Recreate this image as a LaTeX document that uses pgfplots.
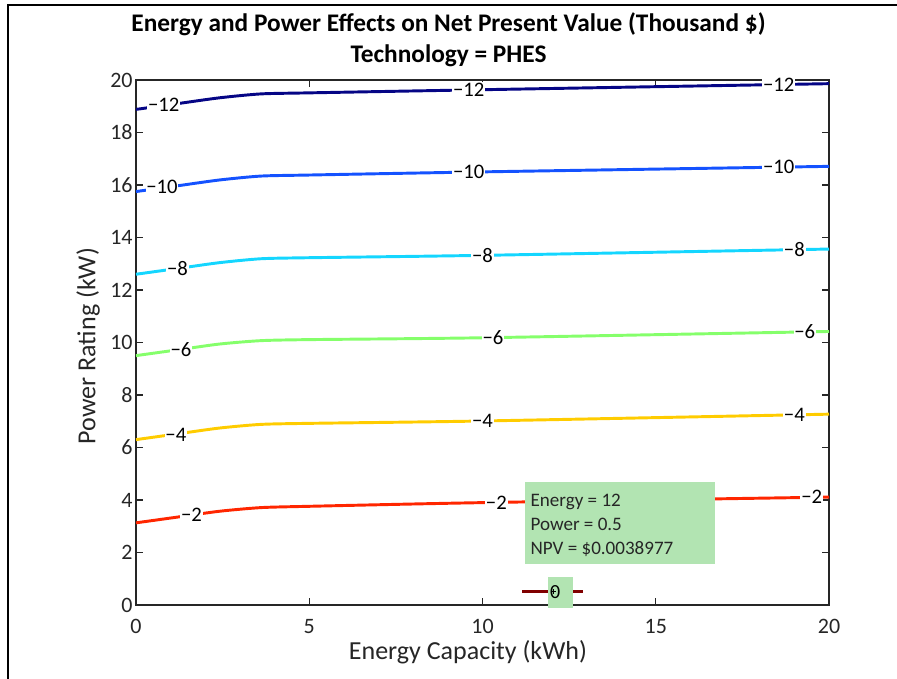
\documentclass[border=0pt]{standalone}
\usepackage{pgfplots}
\pgfplotsset{compat=1.18}
\usepackage{fontspec}
\setmainfont{Carlito}
\definecolor{c12}{rgb}{0.02,0.02,0.52}
\definecolor{c10}{rgb}{0.08,0.32,1.0}
\definecolor{c8}{rgb}{0.08,0.84,1.0}
\definecolor{c6}{rgb}{0.52,1.0,0.42}
\definecolor{c4}{rgb}{1.0,0.80,0.0}
\definecolor{c2}{rgb}{1.0,0.15,0.0}
\definecolor{c0}{rgb}{0.50,0.0,0.0}
\definecolor{tipgreen}{RGB}{178,228,178}
\definecolor{axgray}{RGB}{38,38,38}
\tikzset{clabel/.style={fill=white, inner sep=0.6pt, font=\fontsize{15.5}{18}\selectfont}}
\begin{document}
\begin{tikzpicture}
\path[use as bounding box] (-102pt,-55.5pt) rectangle (570.75pt,453.75pt);
\draw[line width=2.2pt,black] (-96pt,-60pt) -- (-96pt,450pt) -- (580pt,450pt);
\node[font=\fontsize{19}{22}\selectfont\bfseries] at (234.4pt,435.5pt) {Energy and Power Effects on Net Present Value (Thousand \$)};
\node[font=\fontsize{19}{22}\selectfont\bfseries] at (234.4pt,412pt) {Technology = PHES};
\begin{axis}[
  at={(0,0)}, anchor=south west,
  scale only axis, width=519.75pt, height=393.75pt,
  xmin=0, xmax=20, ymin=0, ymax=20,
  xtick={0,5,10,15,20}, ytick={0,2,...,20},
  tick align=inside, major tick length=5pt,
  clip=false,
  axis line style={axgray, line width=0.9pt},
  every tick/.style={axgray, line width=0.8pt},
  tick label style={font=\fontsize{16.5}{19}\selectfont, text=axgray},
  xticklabel style={yshift=-7pt},
  yticklabel style={xshift=1pt},
  /pgf/number format/assume math mode=true,
  xlabel={Energy Capacity (kWh)}, ylabel={Power Rating (kW)},
  every axis x label/.style={at={(axis description cs:0.479,-0.0895)}, anchor=center, font=\fontsize{19.5}{22}\selectfont, text=axgray},
  every axis y label/.style={at={(axis description cs:-0.069,0.493)}, anchor=center, rotate=90, font=\fontsize{19.5}{22}\selectfont, text=axgray},
]
\addplot[c12, line width=2.2pt, smooth, tension=0.4] coordinates {(0,18.88) (1.2,19.10) (2.4,19.32) (3.6,19.47) (5,19.51) (10,19.63) (20,19.86)};
\addplot[c10, line width=2.2pt, smooth, tension=0.4] coordinates {(0,15.75) (1.2,15.97) (2.4,16.19) (3.6,16.34) (5,16.38) (10,16.50) (20,16.71)};
\addplot[c8, line width=2.2pt, smooth, tension=0.4] coordinates {(0,12.60) (1.2,12.82) (2.4,13.04) (3.6,13.19) (5,13.23) (10,13.32) (20,13.56)};
\addplot[c6, line width=2.2pt, smooth, tension=0.4] coordinates {(0,9.50) (1.2,9.72) (2.4,9.94) (3.6,10.07) (5,10.11) (10,10.18) (20,10.42)};
\addplot[c4, line width=2.2pt, smooth, tension=0.4] coordinates {(0,6.30) (1.2,6.52) (2.4,6.74) (3.6,6.88) (5,6.92) (10,7.01) (20,7.27)};
\addplot[c2, line width=2.2pt, smooth, tension=0.4] coordinates {(0,3.13) (1.2,3.35) (2.4,3.57) (3.6,3.71) (5,3.76) (10,3.90) (20,4.11)};
\addplot[c0, line width=2.2pt] coordinates {(11.15,0.5) (12.9,0.5)};
% contour labels
\node[clabel] at (axis cs:0.8,19.05) {−12};
\node[clabel] at (axis cs:9.6,19.62) {−12};
\node[clabel] at (axis cs:18.55,19.83) {−12};
\node[clabel] at (axis cs:0.75,15.93) {−10};
\node[clabel] at (axis cs:9.6,16.49) {−10};
\node[clabel] at (axis cs:18.55,16.69) {−10};
\node[clabel] at (axis cs:1.2,12.82) {−8};
\node[clabel] at (axis cs:10.0,13.32) {−8};
\node[clabel] at (axis cs:19.0,13.55) {−8};
\node[clabel] at (axis cs:1.3,9.74) {−6};
\node[clabel] at (axis cs:10.3,10.18) {−6};
\node[clabel] at (axis cs:19.3,10.41) {−6};
\node[clabel] at (axis cs:1.15,6.50) {−4};
\node[clabel] at (axis cs:10.0,7.01) {−4};
\node[clabel] at (axis cs:19.0,7.25) {−4};
\node[clabel] at (axis cs:1.6,3.42) {−2};
\node[clabel] at (axis cs:10.4,3.91) {−2};
\node[clabel] at (axis cs:19.5,4.11) {−2};
% data tip
\fill[tipgreen] (axis cs:11.9,-0.1) rectangle (axis cs:12.6,1.07);
\node[font=\fontsize{15}{16}\selectfont, inner sep=0pt] at (axis cs:12.1,0.5) {0};
\addplot[only marks, mark=+, mark size=1.8pt, black, line width=0.6pt] coordinates {(12.05,0.5)};
\fill[tipgreen] (axis cs:11.23,1.56) rectangle (axis cs:16.71,4.69);
\node[anchor=west, align=left, inner sep=0pt, font=\fontsize{14.3}{18}\selectfont, text=black!85] at (axis cs:11.38,3.05) {Energy = 12\\Power = 0.5\\NPV = \$0.0038977};
\end{axis}
\end{tikzpicture}
\end{document}
